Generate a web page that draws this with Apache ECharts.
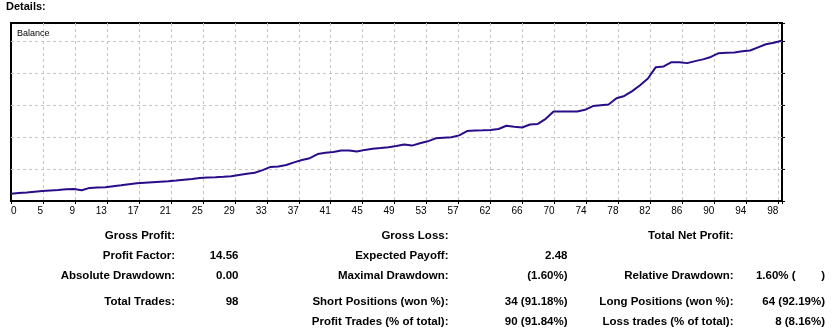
<!DOCTYPE html>
<html>
<head>
<meta charset="utf-8">
<script src="https://cdn.jsdelivr.net/npm/echarts@6/dist/echarts.min.js"></script>
<style>
  html, body { margin: 0; padding: 0; background: #ffffff; }
  #chart { width: 836px; height: 332px; }
</style>
</head>
<body>
<div id="chart"></div>
<script>
// Account balance after each closed trade (trade 0 .. 98)
const balance = [
  1011.4, 1012.5, 1013.4, 1014.5, 1015.6, 1016.4, 1017.2, 1018.3, 1018.8, 1016.7,
  1020.5, 1021.1, 1021.7, 1023.1, 1024.5, 1026.1, 1027.7, 1028.6, 1029.4, 1030.2,
  1030.9, 1032.0, 1033.3, 1034.5, 1035.9, 1036.7, 1037.3, 1038.0, 1038.8, 1040.8,
  1042.7, 1044.2, 1048.3, 1053.3, 1053.9, 1056.4, 1060.5, 1064.2, 1067.0, 1073.4,
  1075.5, 1076.7, 1078.9, 1079.1, 1077.5, 1080.0, 1081.6, 1082.8, 1084.1, 1086.1,
  1088.3, 1086.7, 1090.5, 1093.4, 1098.1, 1099.1, 1099.7, 1102.7, 1109.4, 1110.2,
  1110.6, 1111.1, 1112.7, 1117.8, 1116.1, 1115.0, 1119.7, 1120.6, 1128.6, 1140.0,
  1140.0, 1140.0, 1140.2, 1142.7, 1148.6, 1149.8, 1150.9, 1160.8, 1164.4, 1171.9,
  1181.1, 1191.7, 1209.5, 1210.6, 1217.2, 1217.2, 1215.8, 1218.9, 1221.7, 1225.5,
  1231.3, 1232.2, 1232.5, 1234.5, 1235.5, 1240.5, 1245.3, 1247.8, 1250.9
];

// Trade-number labels printed under the vertical grid lines
const xTickLabels = ['0', '5', '9', '13', '17', '21', '25', '29', '33', '37', '41', '45', '49',
  '53', '57', '62', '66', '70', '74', '78', '82', '86', '90', '94', '98'];

// Summary table, one array per column
const labelsCol1 = ['Gross Profit:', 'Profit Factor:', 'Absolute Drawdown:', 'Total Trades:', ''];
const valuesCol1 = ['', '14.56', '0.00', '98', ''];
const labelsCol2 = ['Gross Loss:', 'Expected Payoff:', 'Maximal Drawdown:', 'Short Positions (won %):', 'Profit Trades (% of total):'];
const valuesCol2 = ['', '2.48', '(1.60%)', '34 (91.18%)', '90 (91.84%)'];
const labelsCol3 = ['Total Net Profit:', '', 'Relative Drawdown:', 'Long Positions (won %):', 'Loss trades (% of total):'];
const valuesCol3 = ['', '', '1.60% (        )', '64 (92.19%)', '8 (8.16%)'];

// Layout of the table (right edge of each column, vertical centre of each row)
const columnRightX = [175, 238.5, 448.5, 567.5, 733.5, 825];
const rowY = [235.5, 255.5, 275.5, 302, 322];
const tableColumns = [labelsCol1, valuesCol1, labelsCol2, valuesCol2, labelsCol3, valuesCol3];

const textFont = '"Liberation Sans", Arial, sans-serif';
const gridColor = '#c4c4c4';

const graphics = [{
  type: 'text', x: 6, y: 7,
  style: { text: 'Details:', font: 'bold 11px ' + textFont, fill: '#000', align: 'left', verticalAlign: 'middle' }
}];
tableColumns.forEach((col, c) => {
  col.forEach((txt, r) => {
    if (!txt) return;
    graphics.push({
      type: 'text', x: columnRightX[c], y: rowY[r],
      style: { text: txt, font: 'bold 11.5px ' + textFont, fill: '#000', align: 'right', verticalAlign: 'middle' }
    });
  });
});

const xInterval = 4.066;
const yMin = 1000, yMax = 1278.6, yInterval = 50;

const dashedSplit = {
  show: true, showMinLine: false, showMaxLine: false,
  lineStyle: { color: gridColor, type: [3, 3], width: 1 }
};

const chart = echarts.init(document.getElementById('chart'), null, { renderer: 'canvas' });
chart.setOption({
  animation: false,
  backgroundColor: '#ffffff',
  title: {
    text: 'Balance', left: 12, top: 24,
    textStyle: { fontFamily: textFont, fontSize: 9, fontWeight: 'normal', color: '#000' }
  },
  grid: {
    left: 11, right: 54, top: 23, bottom: 131,
    show: true, borderColor: '#000', borderWidth: 2, backgroundColor: 'transparent'
  },
  xAxis: {
    type: 'value', min: 0, max: 98.05, interval: xInterval,
    axisLine: { show: true, lineStyle: { color: '#000', width: 2 } },
    axisTick: { show: true, length: 3, lineStyle: { color: '#000' } },
    splitLine: dashedSplit,
    axisLabel: {
      show: true, align: 'right', alignMinLabel: 'left', margin: 5,
      fontFamily: textFont, fontSize: 10, color: '#000',
      showMaxLabel: true,
      formatter: (v, i) => (xTickLabels[i] !== undefined ? xTickLabels[i] : '')
    }
  },
  yAxis: [{
    type: 'value', min: yMin, max: yMax, interval: yInterval,
    axisLine: { show: false }, axisTick: { show: false }, axisLabel: { show: false },
    splitLine: dashedSplit
  }, {
    type: 'value', position: 'right', min: yMin, max: yMax, interval: yInterval,
    axisLine: { show: false },
    axisTick: { show: true, length: 3, lineStyle: { color: '#000' } },
    axisLabel: { show: false }, splitLine: { show: false }
  }],
  series: [{
    type: 'line',
    data: balance.map((v, i) => [i, v]),
    showSymbol: false,
    lineStyle: { color: '#2a0c88', width: 2 },
    silent: true
  }],
  graphic: graphics
});
</script>
</body>
</html>
